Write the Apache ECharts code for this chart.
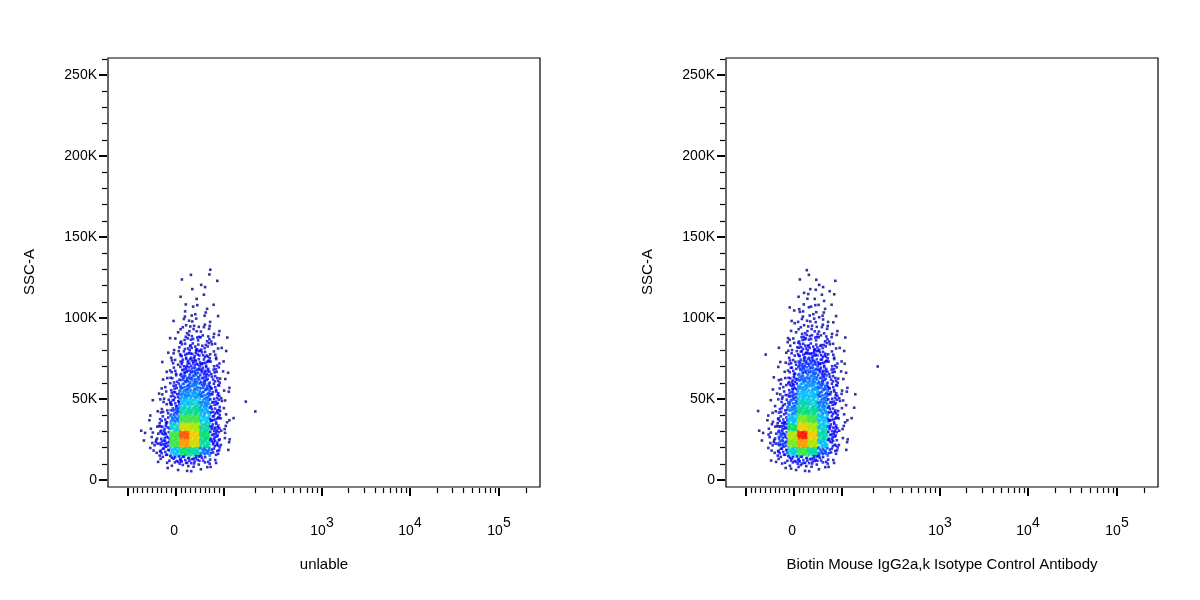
<!DOCTYPE html>
<html>
<head>
<meta charset="UTF-8">
<title>flow plots</title>
<script src="https://cdn.jsdelivr.net/npm/echarts@6/dist/echarts.min.js"></script>
<style>html,body{margin:0;padding:0;background:#fff}#chart{width:1200px;height:600px}</style>
</head>
<body>
<div id="chart"></div>
<script>
// y bins (lower edge, in SSC-A units), from top to bottom
var yBins = [125000,120000,115000,110000,105000,100000,95000,90000,85000,80000,75000,70000,65000,60000,55000,50000,45000,40000,35000,30000,25000,20000,15000,10000,5000];
// x bins in display channel units (0..432), each 10 wide
var xBins = [32,42,52,62,72,82,92,102,112,122,132,142];
var leftCounts = [
[0,0,0,0,0,1,1,1,0,0,0,0],
[0,0,0,0,1,0,1,1,0,0,0,0],
[0,0,0,0,0,1,1,0,0,0,0,0],
[0,0,0,0,1,1,1,0,0,0,0,0],
[0,0,0,0,1,2,1,1,0,0,0,0],
[0,0,0,0,2,2,2,1,0,0,0,0],
[0,0,0,1,3,3,2,1,0,0,0,0],
[0,0,0,1,4,4,3,2,0,0,0,0],
[0,0,0,2,5,6,5,3,1,0,0,0],
[0,0,0,2,6,8,6,3,1,0,0,0],
[0,0,1,3,8,10,8,4,1,0,0,0],
[0,0,1,4,10,12,10,5,1,0,0,0],
[0,0,1,5,12,14,12,6,2,0,0,0],
[0,0,2,6,14,16,13,7,2,0,0,0],
[0,0,2,8,16,18,15,8,2,0,0,0],
[0,1,3,10,19,20,17,9,2,0,0,0],
[0,1,4,12,22,24,19,10,2,0,1,0],
[0,1,5,15,26,27,21,11,3,0,0,1],
[1,2,7,18,30,30,23,11,3,1,0,0],
[1,3,9,24,36,34,26,12,3,0,0,0],
[1,4,11,30,42,38,28,12,3,0,0,0],
[1,5,12,30,40,36,26,11,2,0,0,0],
[0,4,10,22,28,26,18,8,1,0,0,0],
[0,1,4,9,12,10,7,3,0,0,0,0],
[0,0,1,2,3,3,2,1,0,0,0,0]
];
var rightCounts = [
[0,0,0,0,1,1,0,0,0,0,0,0],
[0,0,0,0,1,1,1,1,0,0,0,0],
[0,0,0,0,1,2,1,1,0,0,0,0],
[0,0,0,0,2,2,2,1,0,0,0,0],
[0,0,0,1,2,3,2,1,0,0,0,0],
[0,0,0,1,3,3,3,1,0,0,0,0],
[0,0,0,2,4,4,3,2,0,0,0,0],
[0,0,0,2,5,5,4,2,0,0,0,0],
[0,0,1,3,7,7,5,3,1,0,0,0],
[0,0,1,4,9,9,7,3,1,0,0,0],
[1,0,1,5,11,12,9,4,1,0,0,0],
[0,0,2,6,13,14,11,5,2,0,0,1],
[0,0,2,8,15,16,12,6,2,0,0,0],
[0,1,3,10,17,18,14,7,2,0,0,0],
[0,1,4,12,20,20,16,8,2,0,0,0],
[0,1,5,14,22,22,17,9,3,1,0,0],
[0,2,6,16,25,24,18,9,3,0,0,0],
[1,2,8,19,28,27,20,10,3,1,0,0],
[1,3,10,22,32,30,22,10,3,1,0,0],
[1,4,12,28,38,34,24,11,3,0,0,0],
[1,5,14,34,44,38,26,11,2,0,0,0],
[1,5,14,32,40,34,22,9,2,0,0,0],
[0,4,11,24,30,26,16,7,1,0,0,0],
[0,2,5,10,13,11,7,3,0,0,0,0],
[0,0,1,3,4,3,2,1,0,0,0,0]
];
var xTitles = ['unlable', 'Biotin Mouse IgG2a,k Isotype Control Antibody'];
var yTickValues = [0, 50000, 100000, 150000, 200000, 250000];
var yTickLabels = ['0', '50K', '100K', '150K', '200K', '250K'];

// fixed in-cell dot layout (fractions of the cell)
var spots = [[.53,.47],[.17,.31],[.83,.72],[.28,.86],[.71,.13],[.06,.62],[.94,.38],[.41,.04],[.62,.93],[.23,.57],
[.77,.49],[.46,.29],[.58,.68],[.12,.09],[.88,.91],[.36,.64],[.67,.36],[.03,.96],[.97,.02],[.49,.18],
[.51,.82],[.19,.76],[.81,.24],[.31,.41],[.73,.59],[.09,.33],[.91,.67],[.39,.88],[.61,.11],[.01,.52]];

// biexponential-like display transform (display units 0..432)
function tx(v) {
  if (v <= 100) return 68 + v * 0.48;
  var a = [[100,118],[1e3,214],[1e4,302],[1e5,391],[1e6,480]];
  for (var i = 0; i < a.length - 1; i++) {
    if (v <= a[i+1][0]) {
      var f = (Math.log10(v) - Math.log10(a[i][0])) / (Math.log10(a[i+1][0]) - Math.log10(a[i][0]));
      return a[i][1] + f * (a[i+1][1] - a[i][1]);
    }
  }
}
var minorX = [], majorX = [tx(-100), tx(0), tx(100), tx(1e3), tx(1e4), tx(1e5)];
for (var v = -90; v < 100; v += 10) if (v !== 0) minorX.push(tx(v));
[100,1000,10000].forEach(function (d) { for (var k = 2; k <= 9; k++) minorX.push(tx(d*k)); });
minorX.push(tx(2e5));
var labelX = [tx(0), tx(1e3), tx(1e4), tx(1e5)];
var labelText = {};
labelText[labelX[0]] = '0{s| }';
labelText[labelX[1]] = '10{s|3}';
labelText[labelX[2]] = '10{s|4}';
labelText[labelX[3]] = '10{s|5}';
var minorY = [];
for (var y = 10000; y <= 260000; y += 10000) if (y % 50000) minorY.push(y);

function dots(counts) {
  var out = [];
  for (var r = 0; r < counts.length; r++) {
    for (var c = 0; c < counts[r].length; c++) {
      var n = counts[r][c];
      var m = Math.min(n, spots.length);
      for (var k = 0; k < m; k++) {
        var s = spots[(k + r * 7 + c * 11) % spots.length];
        out.push([xBins[c] + s[0] * 10, yBins[r] + s[1] * 5000, n]);
      }
    }
  }
  return out;
}

var font = 'Liberation Sans, Arial, sans-serif';
var grids = [], xAxes = [], yAxes = [], series = [], graphics = [];
var lefts = [108, 726];
[leftCounts, rightCounts].forEach(function (counts, p) {
  grids.push({left: lefts[p], top: 58, width: 432, height: 429, show: true, borderColor: '#000', borderWidth: 1.2, backgroundColor: '#fff'});
  // major ticks + labels
  xAxes.push({type: 'value', gridIndex: p, min: 0, max: 432, position: 'bottom', offset: 1,
    axisLine: {show: false, onZero: false}, splitLine: {show: false},
    axisTick: {show: true, inside: false, customValues: majorX, length: 8, lineStyle: {color: '#000', width: 2}},
    axisLabel: {show: true, customValues: labelX, margin: 28, color: '#000', fontFamily: font, fontSize: 14,
      formatter: function (val) { return labelText[val] || ''; },
      rich: {s: {fontSize: 14, fontFamily: font, color: '#000', verticalAlign: 'bottom', padding: [0, 0, 16, 0]}}}});
  // minor ticks
  xAxes.push({type: 'value', gridIndex: p, min: 0, max: 432, position: 'bottom', offset: 1,
    axisLine: {show: false, onZero: false}, splitLine: {show: false}, axisLabel: {show: false},
    axisTick: {show: true, inside: false, customValues: minorX, length: 5, lineStyle: {color: '#000', width: 1.2}}});
  yAxes.push({type: 'value', gridIndex: p, min: -4300, max: 260500, position: 'left', offset: 1,
    axisLine: {show: false, onZero: false}, splitLine: {show: false},
    axisTick: {show: true, inside: false, customValues: yTickValues, length: 8, lineStyle: {color: '#000', width: 2}},
    axisLabel: {show: true, customValues: yTickValues, margin: 10, color: '#000', fontFamily: font, fontSize: 14,
      formatter: function (val) { return yTickLabels[yTickValues.indexOf(val)]; }}});
  yAxes.push({type: 'value', gridIndex: p, min: -4300, max: 260500, position: 'left', offset: 1,
    axisLine: {show: false, onZero: false}, splitLine: {show: false}, axisLabel: {show: false},
    axisTick: {show: true, inside: false, customValues: minorY, length: 5, lineStyle: {color: '#000', width: 1.2}}});
  series.push({type: 'scatter', xAxisIndex: p * 2, yAxisIndex: p * 2, data: dots(counts),
    symbol: 'rect', symbolSize: 2.6, silent: true, animation: false});
  graphics.push({type: 'text', x: lefts[p] + 216, y: 557, style: {text: xTitles[p], font: '15px ' + font, fill: '#000', textAlign: 'center'}});
  graphics.push({type: 'text', x: lefts[p] - 78, y: 272, rotation: Math.PI / 2, style: {text: 'SSC-A', font: '15px ' + font, fill: '#000', textAlign: 'center', textVerticalAlign: 'middle'}});
});

var chart = echarts.init(document.getElementById('chart'));
chart.setOption({
  animation: false,
  grid: grids, xAxis: xAxes, yAxis: yAxes, series: series, graphic: graphics,
  visualMap: {show: false, dimension: 2, min: 1, max: 44, seriesIndex: [0, 1],
    inRange: {color: ['#00007a', '#0000e0', '#0000ff', '#0060ff', '#00c8ff', '#00e07a', '#a0f000', '#ffc800', '#ff1800']}}
});
</script>
</body>
</html>
